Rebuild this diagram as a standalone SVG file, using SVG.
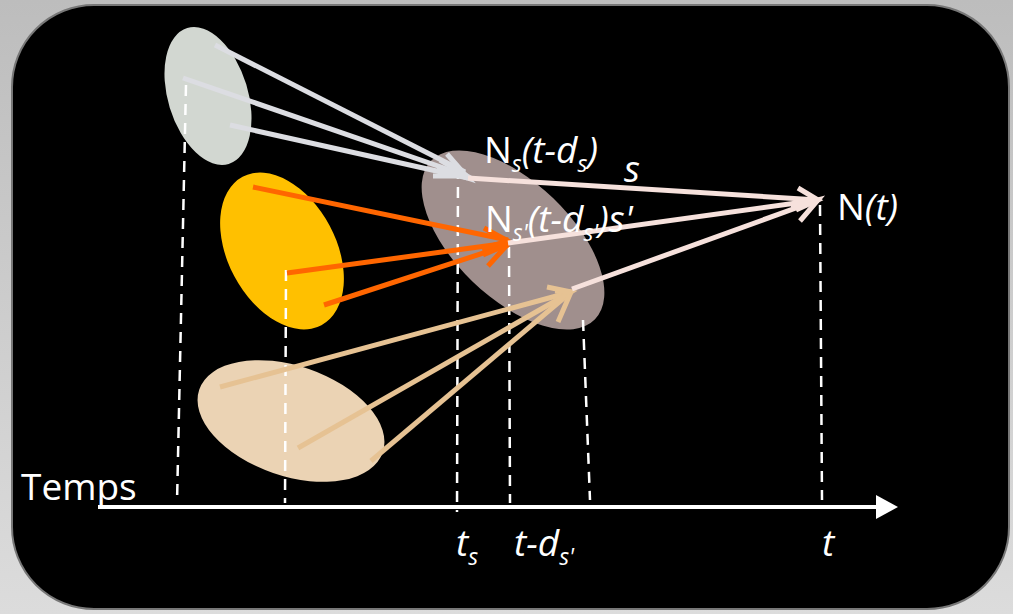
<svg xmlns="http://www.w3.org/2000/svg" width="1013" height="614" viewBox="0 0 1013 614">
<defs>
<linearGradient id="bg" x1="0" y1="0" x2="0" y2="1">
<stop offset="0" stop-color="#bdbdbd"/><stop offset="1" stop-color="#dcdcdc"/>
</linearGradient>
<style>
.t{font-family:"Open Sans","Liberation Sans",sans-serif;fill:#fff;font-size:37px;}
.i{font-style:italic;}
.sub{font-size:23px;font-style:italic;}
.dash{stroke:#fff;stroke-width:2.5;stroke-dasharray:11,8;fill:none;}
.cg{stroke:#dcdde2;stroke-width:5;fill:none;}
.co{stroke:#ff6600;stroke-width:5;fill:none;}
.cb{stroke:#e6c293;stroke-width:5;fill:none;}
.cp{stroke:#f6e1dc;stroke-width:5;fill:none;}
</style>
</defs>
<rect width="1013" height="614" fill="url(#bg)"/>
<rect x="12" y="5" width="997" height="604" rx="82" ry="82" fill="#000" stroke="#777" stroke-width="2"/>

<g id="node-ellipse-gray">
<ellipse cx="208" cy="96" rx="40" ry="71" transform="rotate(-17 208 96)" fill="#d2d7d1"/>
</g>
<g id="node-ellipse-yellow">
<ellipse cx="282" cy="251" rx="54" ry="84" transform="rotate(-28 282 251)" fill="#ffc000"/>
</g>
<g id="node-ellipse-beige">
<ellipse cx="291" cy="421" rx="97" ry="55" transform="rotate(19 291 421)" fill="#ebd3b4"/>
</g>
<g id="node-ellipse-mauve">
<ellipse cx="513" cy="240" rx="114" ry="58" transform="rotate(44 513 240)" fill="#a08f8d"/>
</g>

<g id="guides">
<path class="dash" d="M186,85 L177,503"/>
<path class="dash" d="M286,270 L285,503"/>
<path class="dash" d="M458,168 L457,512"/>
<path class="dash" d="M509,247 L510,503"/>
<path class="dash" d="M583,320 L590,500"/>
<path class="dash" d="M820,205 L822,500"/>
</g>

<g id="connectors">
<path class="cg" d="M215,45 L465,172"/>
<path class="cg" d="M183,78 L467,176"/>
<path class="cg" d="M230,125 L468,178"/>
<path d="M437,168 L468,178 L447,154" class="cg" stroke-width="4"/>
<path d="M440,160 L467,176 L433,176" class="cg" stroke-width="4"/>
<path class="co" d="M253,187 L508,240"/>
<path class="co" d="M287,273 L508,243"/>
<path class="co" d="M324,305 L508,245"/>
<path d="M484,228 L508,241 L482,249" class="co"/>
<path d="M483,255 L508,244 L488,266" class="co"/>
<path class="cb" d="M220,387 L571,292"/>
<path class="cb" d="M298,448 L571,292"/>
<path class="cb" d="M371,461 L571,292"/>
<path d="M547,287 L571,292 L552,304" class="cb"/>
<path d="M555,291 L571,292 L558,322" class="cb"/>
<path class="cp" d="M468,178 L818,200"/>
<path class="cp" d="M508,243 L818,200"/>
<path class="cp" d="M572,289 L818,200"/>
<path d="M798,188 L818,200 L796,210" class="cp"/>
<path d="M791,207 L818,200 L800,221" class="cp"/>
<path d="M98,507 L878,507" stroke="#fff" stroke-width="4" fill="none"/>
<path d="M876,495 L898,507 L876,519 Z" fill="#fff"/>
</g>

<g id="labels">
<text class="t" x="21" y="500">Temps</text>
<text class="t" x="484" y="163">N<tspan class="sub" dy="9">s</tspan><tspan class="i" dy="-9">(t-d</tspan><tspan class="sub" dy="9">s</tspan><tspan class="i" dy="-9">)</tspan></text>
<text class="t i" x="624" y="182">s</text>
<text class="t" x="485" y="232">N<tspan class="sub" dy="9">s'</tspan><tspan class="i" dy="-9">(t-d</tspan><tspan class="sub" dy="9">s'</tspan><tspan class="i" dy="-9">)s'</tspan></text>
<text class="t" x="837" y="220">N<tspan class="i">(t)</tspan></text>
<text class="t i" x="456" y="556">t<tspan class="sub" dy="9">s</tspan></text>
<text class="t i" x="514" y="556">t-d<tspan class="sub" dy="9">s'</tspan></text>
<text class="t i" x="822" y="556">t</text>
</g>
</svg>
